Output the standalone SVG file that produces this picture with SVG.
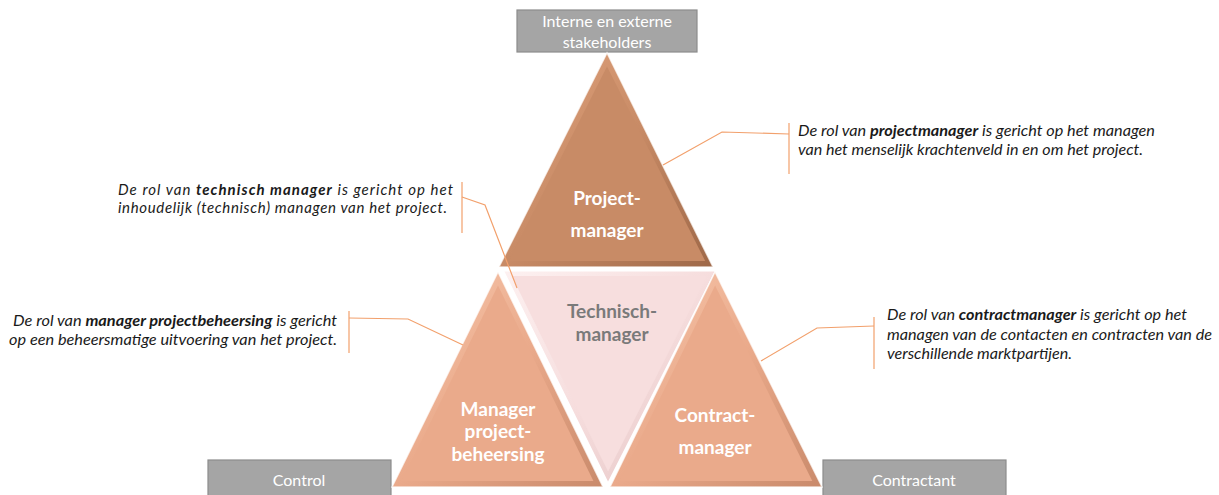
<svg xmlns="http://www.w3.org/2000/svg" width="1219" height="495" viewBox="0 0 1219 495">
<defs>
<linearGradient id="gTop" x1="0" y1="0" x2="1" y2="1">
<stop offset="0" stop-color="#e2a47e"/><stop offset="0.5" stop-color="#c88b66"/><stop offset="1" stop-color="#9e6848"/>
</linearGradient>
<linearGradient id="gBot" x1="0" y1="0" x2="1" y2="1">
<stop offset="0" stop-color="#f8c9ae"/><stop offset="0.5" stop-color="#eaaa8b"/><stop offset="1" stop-color="#c98a6b"/>
</linearGradient>
<linearGradient id="gTech" x1="0" y1="0" x2="1" y2="1">
<stop offset="0" stop-color="#fdf1f1"/><stop offset="0.5" stop-color="#f6dddd"/><stop offset="1" stop-color="#e4c4c4"/>
</linearGradient>
<style>
.box{fill:#a5a5a5;stroke:#8c8c8c;stroke-width:1.2}
.boxt{font-family:Lato,"Liberation Sans",sans-serif;font-size:16px;fill:#ffffff;text-anchor:middle}
.lbl{font-family:Lato,"Liberation Sans",sans-serif;font-size:19px;font-weight:bold;fill:#ffffff;text-anchor:middle}
.lblg{fill:#7a7a7a}
.desc{font-family:Lato,"Liberation Sans",sans-serif;font-size:15px;font-style:italic;fill:#1a1a1a}
.b{font-weight:bold}
.con{fill:none;stroke:#f2a06c;stroke-width:1.2}
.topin{fill:#c88b66}
.botin{fill:#eaaa8b}
.techin{fill:#f7dede}
.edge{stroke:#ffffff;stroke-width:1.5;stroke-opacity:0.7}
</style>
</defs>
<rect width="1219" height="495" fill="#ffffff"/>

<g id="stakeholders">
<rect class="box" x="517" y="10" width="180" height="42"/>
<text class="boxt" x="607" y="27">Interne en externe</text>
<text class="boxt" x="607" y="48">stakeholders</text>
</g>

<g id="control">
<rect class="box" x="208" y="460" width="183" height="40"/>
<text class="boxt" x="299" y="486">Control</text>
</g>

<g id="contractant">
<rect class="box" x="823" y="460" width="183" height="40"/>
<text class="boxt" x="914" y="486">Contractant</text>
</g>

<g id="projectmanager">
<polygon class="edge" points="607,53 499,267 713,267" fill="url(#gTop)"/>
<polygon class="topin" points="607,66.5 508.8,261 705.2,261"/>
<text class="lbl" x="607" y="205">Project-</text>
<text class="lbl" x="607" y="237">manager</text>
</g>

<g id="technischmanager">
<polygon points="502,270 717,270 608,485" fill="url(#gTech)" stroke="#ffffff" stroke-width="3"/>
<polygon class="techin" points="511.7,276 707.2,276 608.1,471.4"/>
<text class="lbl lblg" x="612" y="318">Technisch-</text>
<text class="lbl lblg" x="612" y="341">manager</text>
</g>

<g id="managerprojectbeheersing">
<polygon class="edge" points="498,272 392,487 603,487" fill="url(#gBot)"/>
<polygon class="botin" points="498,285.6 401.6,481 593.4,481"/>
<text class="lbl" x="498" y="416">Manager</text>
<text class="lbl" x="498" y="438">project-</text>
<text class="lbl" x="498" y="461">beheersing</text>
</g>

<g id="contractmanager">
<polygon class="edge" points="715,272 610,487 822,487" fill="url(#gBot)"/>
<polygon class="botin" points="715.1,285.6 619.6,481 812.3,481"/>
<text class="lbl" x="715" y="422">Contract-</text>
<text class="lbl" x="715" y="454">manager</text>
</g>

<g id="connectors">
<polyline class="con" points="663,165 722,132 789,134"/>
<line class="con" x1="789" y1="123" x2="789" y2="174"/>
<polyline class="con" points="761,361 817,328 874,326"/>
<line class="con" x1="874" y1="317" x2="874" y2="369"/>
<polyline class="con" points="462,197 485,205 517,288"/>
<line class="con" x1="462" y1="182" x2="462" y2="233"/>
<polyline class="con" points="349,318 408,319 463,345"/>
<line class="con" x1="349" y1="311" x2="349" y2="353"/>
</g>

<g id="desc-projectmanager">
<text class="desc" x="798" y="136" textLength="357" lengthAdjust="spacingAndGlyphs">De rol van <tspan class="b">projectmanager</tspan> is gericht op het managen</text>
<text class="desc" x="798" y="155" textLength="345" lengthAdjust="spacingAndGlyphs">van het menselijk krachtenveld in en om het project.</text>
</g>

<g id="desc-technischmanager">
<text class="desc" x="118" y="195" textLength="335" lengthAdjust="spacing">De rol van <tspan class="b">technisch manager</tspan> is gericht op het</text>
<text class="desc" x="118" y="213" textLength="329" lengthAdjust="spacing">inhoudelijk (technisch) managen van het project.</text>
</g>

<g id="desc-managerprojectbeheersing">
<text class="desc" x="337" y="326" text-anchor="end" textLength="324" lengthAdjust="spacingAndGlyphs">De rol van <tspan class="b">manager projectbeheersing</tspan> is gericht</text>
<text class="desc" x="337" y="345" text-anchor="end" textLength="328" lengthAdjust="spacingAndGlyphs">op een beheersmatige uitvoering van het project.</text>
</g>

<g id="desc-contractmanager">
<text class="desc" x="887" y="320" textLength="300" lengthAdjust="spacingAndGlyphs">De rol van <tspan class="b">contractmanager</tspan> is gericht op het</text>
<text class="desc" x="887" y="340" textLength="325" lengthAdjust="spacingAndGlyphs">managen van de contacten en contracten van de</text>
<text class="desc" x="887" y="359" textLength="185" lengthAdjust="spacingAndGlyphs">verschillende marktpartijen.</text>
</g>
</svg>
